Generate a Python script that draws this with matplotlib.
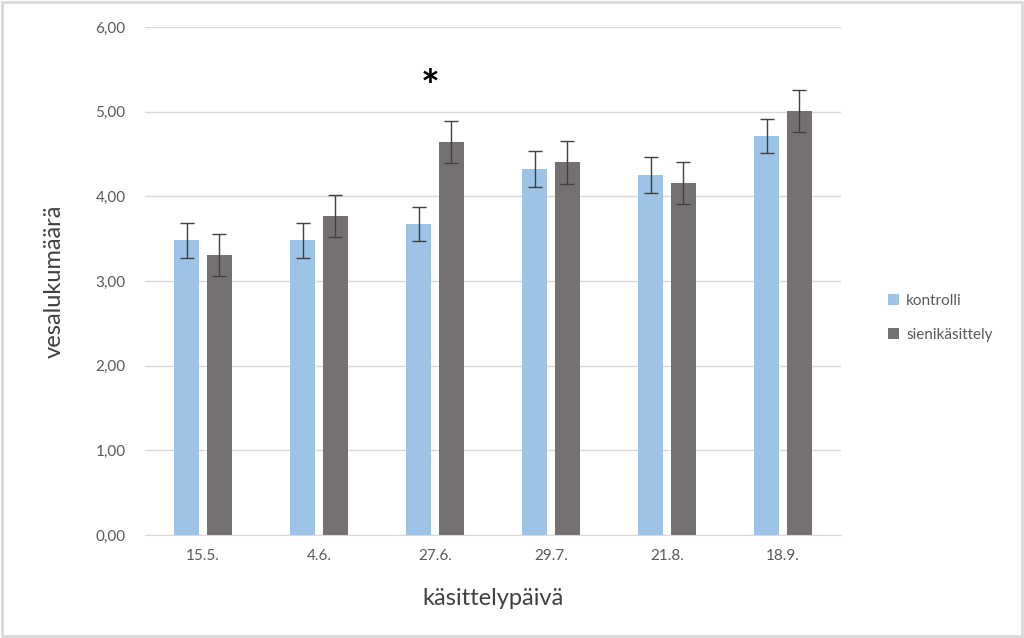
import numpy as np
import matplotlib
matplotlib.use("Agg")
import matplotlib.pyplot as plt
from matplotlib.patches import Rectangle

plt.rcParams['font.family'] = ['Lato', 'DejaVu Sans']

dates = ['15.5.', '4.6.', '27.6.', '29.7.', '21.8.', '18.9.']
kontrolli = [3.48, 3.48, 3.67, 4.32, 4.25, 4.71]
kontrolli_err = [0.21, 0.21, 0.20, 0.21, 0.21, 0.20]
sieni = [3.31, 3.77, 4.64, 4.40, 4.16, 5.01]
sieni_err = [0.25, 0.25, 0.25, 0.25, 0.25, 0.25]
star_at = 2  # 27.6.

fig = plt.figure(figsize=(10.24, 6.38), dpi=100)
# light gray chart frame
fig.patches.append(Rectangle((0.002, 0.003), 0.996, 0.994, transform=fig.transFigure,
                             fill=False, edgecolor='#d9d9d9', linewidth=2))
ax = fig.add_axes([145 / 1024, 1 - 535 / 638, 696 / 1024, 508 / 638])

x = np.arange(len(dates))
w = 0.22
off = 0.141
err_kw = dict(ecolor='#404040', elinewidth=1, capsize=5, capthick=1)
ax.bar(x - off, kontrolli, w, yerr=kontrolli_err, color='#9dc3e6', label='kontrolli',
       error_kw=err_kw, zorder=3)
ax.bar(x + off, sieni, w, yerr=sieni_err, color='#767171', label='sienikäsittely',
       error_kw=err_kw, zorder=3)

ax.text(x[star_at] - 0.04, 5.28, '*', ha='center', va='center', fontsize=32,
        fontweight='bold', color='black')

ax.set_xlim(-0.5, len(dates) - 0.5)
ax.set_ylim(0, 6)
ax.set_yticks(np.arange(0, 6.01, 1))
ax.set_yticklabels([f'{v:.2f}'.replace('.', ',') for v in np.arange(0, 6.01, 1)])
ax.set_xticks(x)
ax.set_xticklabels(dates)
ax.grid(axis='y', color='#d9d9d9', linewidth=1, zorder=0)
for s in ['top', 'right', 'left']:
    ax.spines[s].set_visible(False)
ax.spines['bottom'].set_color('#d9d9d9')
ax.tick_params(axis='both', length=0, labelsize=11, labelcolor='#595959')
ax.tick_params(axis='y', pad=14)
ax.tick_params(axis='x', pad=10)

ax.set_xlabel('käsittelypäivä', fontsize=17, color='#404040', labelpad=18)
ax.set_ylabel('vesalukumäärä', fontsize=17, color='#404040', labelpad=22)

ax.legend(loc='center left', bbox_to_anchor=(888 / 1024, 1 - 318 / 638),
          bbox_transform=fig.transFigure, borderaxespad=0, borderpad=0,
          frameon=False, fontsize=11, labelcolor='#595959', handlelength=0.7,
          handleheight=0.7, handletextpad=0.5, labelspacing=1.3)

fig.savefig('out.png', dpi=100)
